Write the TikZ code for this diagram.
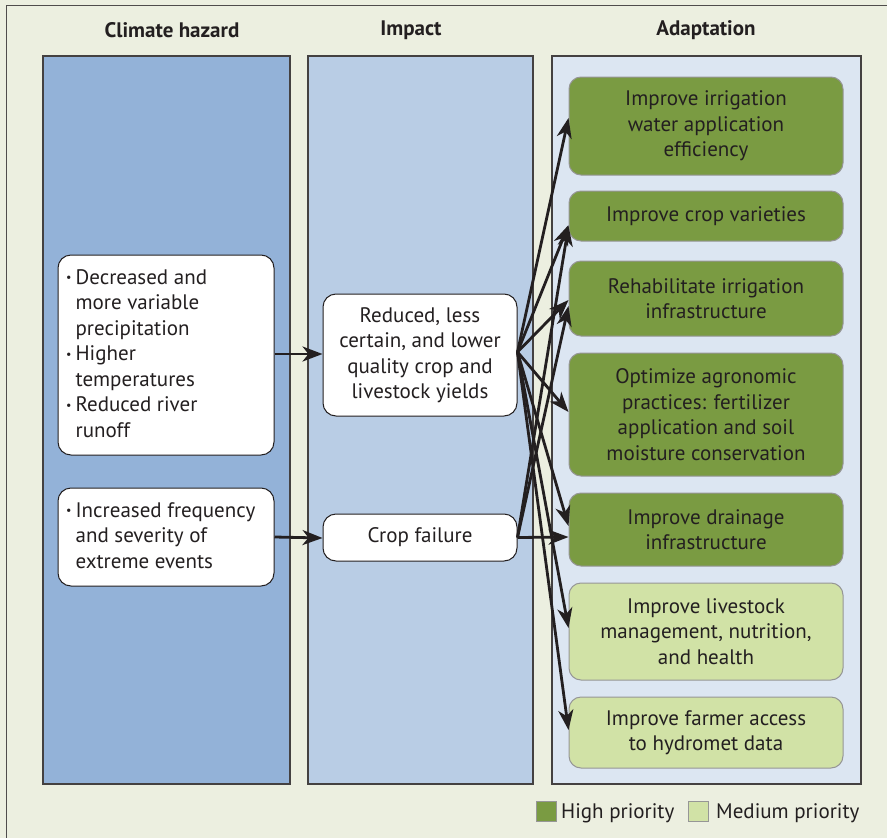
\documentclass[tikz,border=0pt]{standalone}
\usepackage{fontspec}
\setmainfont{PT Sans}
\usetikzlibrary{arrows.meta}
\definecolor{bgc}{RGB}{236,239,224}
\definecolor{colA}{RGB}{147,178,216}
\definecolor{colB}{RGB}{185,205,229}
\definecolor{colC}{RGB}{220,230,242}
\definecolor{hi}{RGB}{122,155,66}
\definecolor{med}{RGB}{209,226,166}
\definecolor{ink}{RGB}{35,31,32}
\definecolor{edgegray}{RGB}{150,150,150}
\tikzset{
  colbox/.style={draw=ink!85, line width=1.3pt, inner sep=0pt},
  whitebox/.style={draw=ink, fill=white, line width=1pt, rounded corners=13pt, inner sep=0pt, align=center, text=ink},
  hibox/.style={draw=edgegray, fill=hi, line width=1pt, rounded corners=12pt, inner sep=0pt, align=center, text=ink, minimum width=274pt},
  medbox/.style={hibox, fill=med},
  hdr/.style={font=\fontsize{21}{25.5}\selectfont\bfseries, text=ink},
  conn/.style={draw=ink, line width=2.8pt, -{Stealth[length=20pt,width=15pt,inset=6pt]}},
  legbox/.style={draw=edgegray, line width=1pt, minimum width=20pt, minimum height=20pt, inner sep=0pt},
  legtxt/.style={font=\fontsize{21}{25.5}\selectfont, text=ink, inner sep=0pt, anchor=base west}
}
\begin{document}
\begin{tikzpicture}[x=1pt,y=-1pt, font=\fontsize{21}{25.5}\selectfont]
\fill[bgc] (0,0) rectangle (887,838);
\useasboundingbox (0,0) rectangle (887,838);
\draw[ink!80, line width=1pt] (6,838) -- (6,5) -- (887,5);
% headers
\node[hdr] (h1) at (172,30) {Climate hazard};
\node[hdr] (h2) at (411,30) {Impact};
\node[hdr] (h3) at (706,30) {Adaptation};
% columns
\node[colbox, fill=colA, minimum width=247pt, minimum height=728pt] (cA) at (166.5,420) {};
\node[colbox, fill=colB, minimum width=225pt, minimum height=728pt] (cB) at (420.5,420) {};
\node[colbox, fill=colC, minimum width=309pt, minimum height=728pt] (cC) at (706.5,420) {};
% hazards
\node[whitebox, minimum width=216pt, minimum height=200pt] (hzA) at (166,355) {};
\node[text=ink, anchor=north west, inner sep=0pt] (hzAt) at (66,266) {\begin{tabular}{@{}l@{\hspace{4pt}}l@{}}
\raisebox{2.5pt}{\fontsize{12}{12}\selectfont•} & Decreased and\\
 & more variable\\
 & precipitation\\
\raisebox{2.5pt}{\fontsize{12}{12}\selectfont•} & Higher\\
 & temperatures\\
\raisebox{2.5pt}{\fontsize{12}{12}\selectfont•} & Reduced river\\
 & runoff
\end{tabular}};
\node[whitebox, minimum width=216pt, minimum height=98pt] (hzB) at (166,537) {};
\node[text=ink, anchor=north west, inner sep=0pt] (hzBt) at (66,499) {\begin{tabular}{@{}l@{\hspace{4pt}}l@{}}
\raisebox{2.5pt}{\fontsize{12}{12}\selectfont•} & Increased frequency\\
 & and severity of\\
 & extreme events
\end{tabular}};
% impacts
\node[whitebox, minimum width=194pt, minimum height=122pt] (red) at (420,355) {Reduced, less\\certain, and lower\\quality crop and\\livestock yields};
\node[whitebox, minimum width=194pt, minimum height=47pt] (crop) at (420,537.5) {Crop failure};
% adaptation
\node[hibox, minimum height=98pt] (b1) at (706,126) {Improve irrigation\\water application\\efficiency};
\node[hibox, minimum height=50pt] (b2) at (706,216) {Improve crop varieties};
\node[hibox, minimum height=75pt] (b3) at (706,298.5) {Rehabilitate irrigation\\infrastructure};
\node[hibox, minimum height=123pt] (b4) at (706,414.5) {Optimize agronomic\\practices: fertilizer\\application and soil\\moisture conservation};
\node[hibox, minimum height=73pt] (b5) at (706,529.5) {Improve drainage\\infrastructure};
\node[medbox, minimum height=97pt] (b6) at (706,631.5) {Improve livestock\\management, nutrition,\\and health};
\node[medbox, minimum height=71pt] (b7) at (706,732.5) {Improve farmer access\\to hydromet data};
% connectors
\draw[conn] ([yshift=1pt]hzA.east) -- ([yshift=1pt]red.west);
\draw[conn] (hzB.east) -- ([yshift=-0.5pt]crop.west);
\coordinate (rs) at ([yshift=3pt]red.east);
\coordinate (cs) at (crop.east);
\draw[conn] (rs) -- ([yshift=8pt]b1.west);
\draw[conn] (rs) -- ([yshift=-9pt]b2.west);
\draw[conn] (rs) -- ([yshift=-1.5pt]b3.west);
\draw[conn] (rs) -- ([yshift=2.5pt]b4.west);
\draw[conn] (rs) -- ([yshift=3.5pt]b5.west);
\draw[conn] (rs) -- ([yshift=3.5pt]b6.west);
\draw[conn] (rs) -- ([yshift=2.5pt]b7.west);
\draw[conn] (cs) -- ([yshift=-10pt]b2.west);
\draw[conn] (cs) -- ([yshift=-7.5pt]b3.west);
\draw[conn] (cs) -- ([yshift=-7.5pt]b5.west);
% legend
\node[legbox, fill=hi] (lh) at (546.5,811) {};
\node[legtxt] (lht) at (561,818) {High priority};
\node[legbox, fill=med] (lm) at (698.5,811) {};
\node[legtxt] (lmt) at (716,818) {Medium priority};
\end{tikzpicture}
\end{document}
